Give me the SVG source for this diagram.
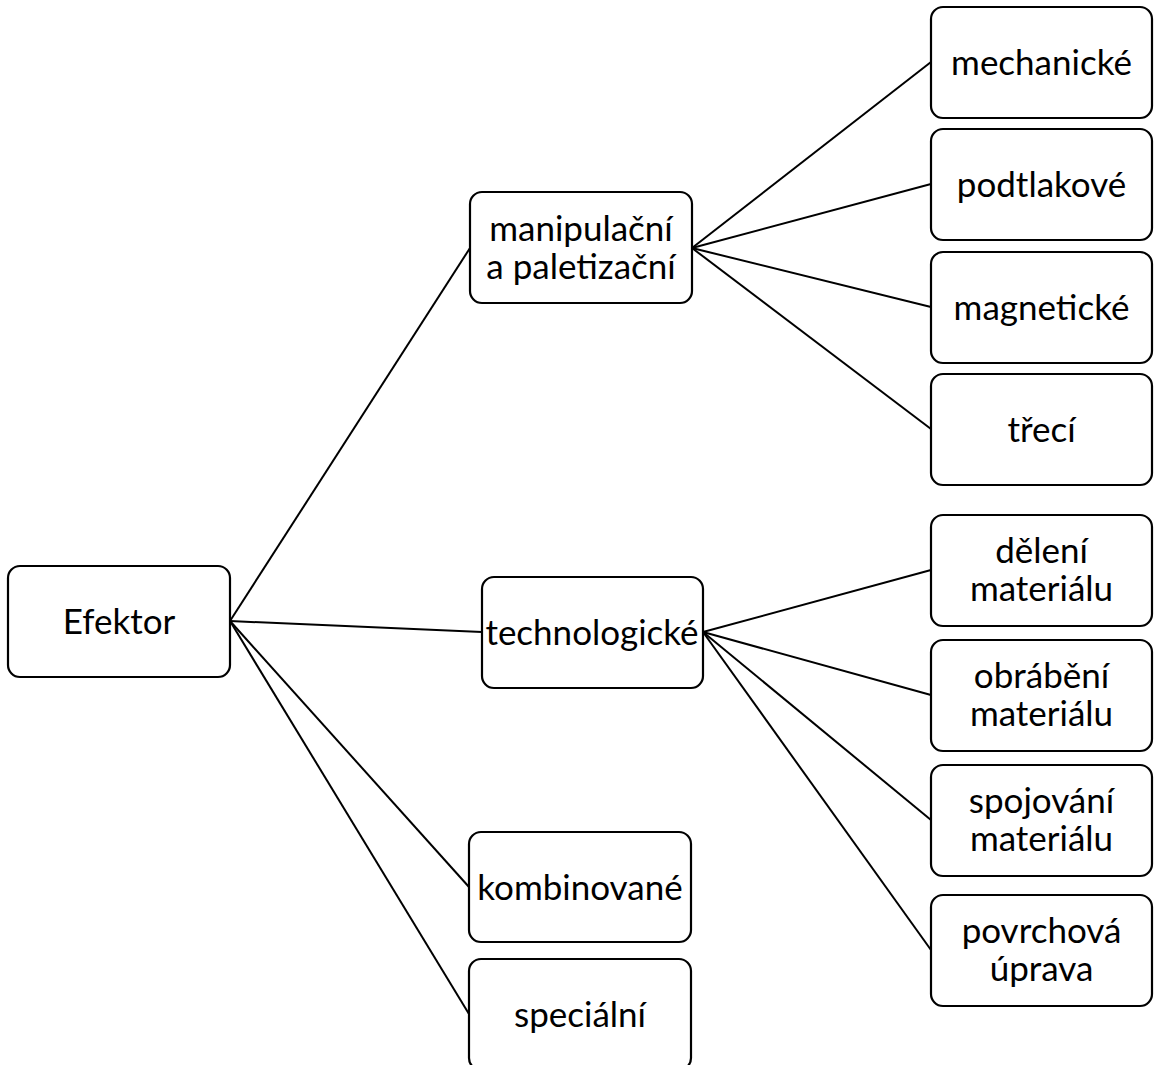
<svg xmlns="http://www.w3.org/2000/svg" width="1154" height="1065" viewBox="0 0 1154 1065">
<style>
.box{fill:#fff;stroke:#000;stroke-width:2.2}
.t{font-family:Lato,"Open Sans","Liberation Sans",sans-serif;font-size:35px;fill:#000;text-anchor:middle}
.c{stroke:#000;stroke-width:2;fill:none}
</style>
<rect width="1154" height="1065" fill="#fff"/>
<g id="connectors">
<line class="c" x1="230" y1="621" x2="470" y2="248"/>
<line class="c" x1="230" y1="621" x2="482" y2="632"/>
<line class="c" x1="230" y1="621" x2="469" y2="887"/>
<line class="c" x1="230" y1="621" x2="469" y2="1014"/>
<line class="c" x1="692" y1="248" x2="931" y2="62"/>
<line class="c" x1="692" y1="248" x2="931" y2="184"/>
<line class="c" x1="692" y1="248" x2="931" y2="307"/>
<line class="c" x1="692" y1="248" x2="931" y2="429"/>
<line class="c" x1="703" y1="632" x2="931" y2="570"/>
<line class="c" x1="703" y1="632" x2="931" y2="695"/>
<line class="c" x1="703" y1="632" x2="931" y2="820"/>
<line class="c" x1="703" y1="632" x2="931" y2="950"/>
</g>
<g id="efektor"><rect class="box" x="8" y="566" width="222" height="111" rx="12"/><text class="t" x="119" y="634">Efektor</text></g>
<g id="manipulacni"><rect class="box" x="470" y="192" width="222" height="111" rx="12"/><text class="t" x="581" y="241">manipulační</text><text class="t" x="581" y="279">a paletizační</text></g>
<g id="technologicke"><rect class="box" x="482" y="577" width="221" height="111" rx="12"/><text class="t" x="592" y="645">technologické</text></g>
<g id="kombinovane"><rect class="box" x="469" y="832" width="222" height="110" rx="12"/><text class="t" x="580" y="900">kombinované</text></g>
<g id="specialni"><rect class="box" x="469" y="959" width="222" height="111" rx="12"/><text class="t" x="580" y="1027">speciální</text></g>
<g id="mechanicke"><rect class="box" x="931" y="7" width="221" height="111" rx="12"/><text class="t" x="1041.5" y="75">mechanické</text></g>
<g id="podtlakove"><rect class="box" x="931" y="129" width="221" height="111" rx="12"/><text class="t" x="1041.5" y="197">podtlakové</text></g>
<g id="magneticke"><rect class="box" x="931" y="252" width="221" height="111" rx="12"/><text class="t" x="1041.5" y="320">magnetické</text></g>
<g id="treci"><rect class="box" x="931" y="374" width="221" height="111" rx="12"/><text class="t" x="1041.5" y="442">třecí</text></g>
<g id="deleni"><rect class="box" x="931" y="515" width="221" height="111" rx="12"/><text class="t" x="1041.5" y="563">dělení</text><text class="t" x="1041.5" y="601">materiálu</text></g>
<g id="obrabeni"><rect class="box" x="931" y="640" width="221" height="111" rx="12"/><text class="t" x="1041.5" y="688">obrábění</text><text class="t" x="1041.5" y="726">materiálu</text></g>
<g id="spojovani"><rect class="box" x="931" y="765" width="221" height="111" rx="12"/><text class="t" x="1041.5" y="813">spojování</text><text class="t" x="1041.5" y="851">materiálu</text></g>
<g id="povrchova"><rect class="box" x="931" y="895" width="221" height="111" rx="12"/><text class="t" x="1041.5" y="943">povrchová</text><text class="t" x="1041.5" y="981">úprava</text></g>
</svg>
